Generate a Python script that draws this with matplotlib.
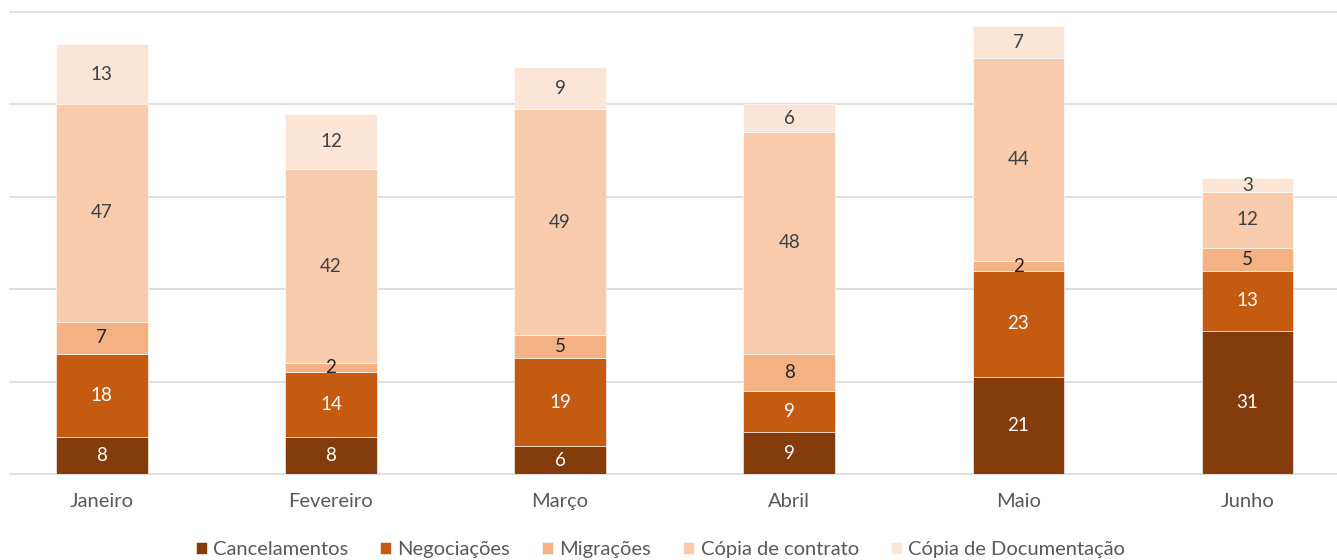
import matplotlib
matplotlib.use('Agg')
import matplotlib.pyplot as plt
import numpy as np

plt.rcParams['font.family'] = ['Lato', 'DejaVu Sans']

meses = ['Janeiro', 'Fevereiro', 'Março', 'Abril', 'Maio', 'Junho']
series = ['Cancelamentos', 'Negociações', 'Migrações', 'Cópia de contrato', 'Cópia de Documentação']
cancelamentos = [8, 8, 6, 9, 21, 31]
negociacoes = [18, 14, 19, 9, 23, 13]
migracoes = [7, 2, 5, 8, 2, 5]
copia_contrato = [47, 42, 49, 48, 44, 12]
copia_documentacao = [13, 12, 9, 6, 7, 3]

valores = [cancelamentos, negociacoes, migracoes, copia_contrato, copia_documentacao]
cores = ['#843C0C', '#C55A11', '#F4B183', '#F8CBAD', '#FBE5D6']
cor_texto = ['white', 'white', '#262626', '#404040', '#404040']

fig = plt.figure(figsize=(13.37, 5.6), dpi=100)
ax = fig.add_axes([0.0075, 0.1536, 0.9925, 0.825])

x = np.arange(len(meses))
base = np.zeros(len(meses))
for nome, vals, cor, ct in zip(series, valores, cores, cor_texto):
    vals = np.array(vals)
    bars = ax.bar(x, vals, bottom=base, width=0.4, color=cor, label=nome,
                  edgecolor='white', linewidth=0.4, zorder=3)
    # rótulos no centro de cada segmento
    for b, v, y0 in zip(bars, vals, base):
        ax.text(b.get_x() + b.get_width() / 2, y0 + v / 2, str(v), ha='center', va='center',
                color=ct, fontsize=13.5, zorder=4)
    base = base + vals

ax.set_xlim(-0.40, 5.39)
ax.set_ylim(0, 100)
ax.set_yticks(np.arange(0, 101, 20))
ax.yaxis.grid(True, color='#D9D9D9', linewidth=1.2, zorder=0)
ax.set_axisbelow(True)
for g in ax.get_ygridlines():
    g.set_clip_on(False)
ax.tick_params(axis='y', left=False, labelleft=False)
ax.tick_params(axis='x', bottom=False, pad=10, labelsize=14.5, labelcolor='#595959')
ax.set_xticks(x)
ax.set_xticklabels(meses)
for s in ax.spines.values():
    s.set_visible(False)

ax.legend(loc='center', bbox_to_anchor=(0.49, -0.163), ncol=5, frameon=False,
          fontsize=14.5, labelcolor='#595959', handlelength=0.55, handleheight=0.55,
          handletextpad=0.3, columnspacing=1.6)

fig.savefig('out.png', dpi=100)
plt.close(fig)
